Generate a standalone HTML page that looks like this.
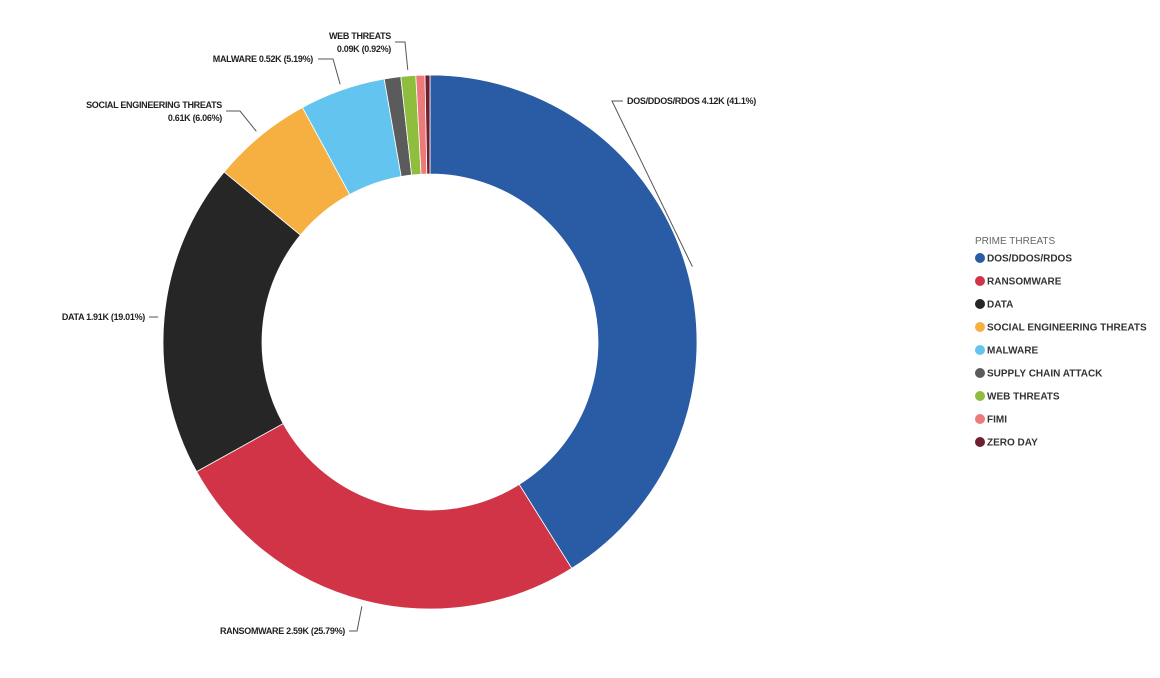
<!DOCTYPE html>
<html><head><meta charset="utf-8">
<style>
html,body{margin:0;padding:0;background:#fff;}
svg{display:block;font-family:"Liberation Sans",sans-serif;}
.lbl{font-size:9px;font-weight:bold;fill:#222;letter-spacing:-0.3px;}
.leg{font-size:10px;font-weight:bold;fill:#333;}
</style></head>
<body>
<svg id="chart" width="1160" height="678" viewBox="0 0 1160 678">
<g id="slices"></g>
<g id="leaders"></g>
<g id="legend">
<text x="975" y="244" font-size="10" fill="#666">PRIME THREATS</text>
</g>
</svg>
<script>
const categories = ["DOS/DDOS/RDOS","RANSOMWARE","DATA","SOCIAL ENGINEERING THREATS","MALWARE","SUPPLY CHAIN ATTACK","WEB THREATS","FIMI","ZERO DAY"];
const values = [4.12,2.59,1.91,0.61,0.52,0.10,0.09,0.055,0.03];
const colors = ["#2a5ba5","#d13447","#262626","#f6b042","#63c5ef","#5b5b5b","#8fbd3e","#ec7a7a","#6e2030"];
const valueLabels = ["4.12K","2.59K","1.91K","0.61K","0.52K","","0.09K","",""];
const pctLabels = ["41.1%","25.79%","19.01%","6.06%","5.19%","","0.92%","",""];

const NS="http://www.w3.org/2000/svg";
const cx=430, cy=342, R=267, r=168;
const total=values.reduce((a,b)=>a+b,0);
const gS=document.getElementById('slices');
const gL=document.getElementById('leaders');
const gG=document.getElementById('legend');
function pt(a,rad){return [cx+rad*Math.sin(a), cy-rad*Math.cos(a)];}
let acc=0;
const mids=[];
values.forEach((v,i)=>{
  const a0=acc/total*2*Math.PI; acc+=v; const a1=acc/total*2*Math.PI;
  mids.push((a0+a1)/2);
  const large=(a1-a0)>Math.PI?1:0;
  const p0=pt(a0,R),p1=pt(a1,R),q1=pt(a1,r),q0=pt(a0,r);
  const p=document.createElementNS(NS,'path');
  p.setAttribute('d',`M${p0[0]},${p0[1]}A${R},${R} 0 ${large} 1 ${p1[0]},${p1[1]}L${q1[0]},${q1[1]}A${r},${r} 0 ${large} 0 ${q0[0]},${q0[1]}Z`);
  p.setAttribute('fill',colors[i]);
  p.setAttribute('stroke','#fff');
  p.setAttribute('stroke-width','0.8');
  
  
  gS.appendChild(p);
});
// label layout: [index, elbowX, elbowY, endX, textX, anchor, lines]
const layout=[
  [0,612,101,623,627,'start',1],
  [1,357,631,349,345,'end',1],
  [2,155,317,149,145,'end',1],
  [3,240,111,226,222,'end',2],
  [4,333,59,318,313,'end',1],
  [6,405,42,395,391,'end',2]
];
layout.forEach(L=>{
  const i=L[0];
  const s=pt(mids[i],R+6);
  const pl=document.createElementNS(NS,'polyline');
  pl.setAttribute('points',`${s[0]},${s[1]} ${L[1]},${L[2]} ${L[3]},${L[2]}`);
  pl.setAttribute('fill','none');pl.setAttribute('stroke','#555');pl.setAttribute('stroke-width','1');
  
  
  gL.appendChild(pl);
  const t=document.createElementNS(NS,'text');
  t.setAttribute('class','lbl');t.setAttribute('text-anchor',L[5]);
  
  
  if(L[6]===1){
    t.setAttribute('x',L[4]);t.setAttribute('y',L[2]+3);
    t.textContent=`${categories[i]} ${valueLabels[i]} (${pctLabels[i]})`;
  }else{
    const a=document.createElementNS(NS,'tspan');a.setAttribute('x',L[4]);a.setAttribute('y',L[2]-3);a.textContent=categories[i];
    const b=document.createElementNS(NS,'tspan');b.setAttribute('x',L[4]);b.setAttribute('y',L[2]+10);b.textContent=`${valueLabels[i]} (${pctLabels[i]})`;
    t.appendChild(a);t.appendChild(b);
  }
  gL.appendChild(t);
});
categories.forEach((c,i)=>{
  const y=258+i*23;
  const g=document.createElementNS(NS,'g');
  
  
  const ci=document.createElementNS(NS,'circle');
  ci.setAttribute('cx',980);ci.setAttribute('cy',y);ci.setAttribute('r',5);ci.setAttribute('fill',colors[i]);
  
  
  const t=document.createElementNS(NS,'text');
  t.setAttribute('x',987);t.setAttribute('y',y+3.5);t.setAttribute('class','leg');t.textContent=c;
  
  
  g.appendChild(ci);g.appendChild(t);gG.appendChild(g);
});
</script>
</body></html>
